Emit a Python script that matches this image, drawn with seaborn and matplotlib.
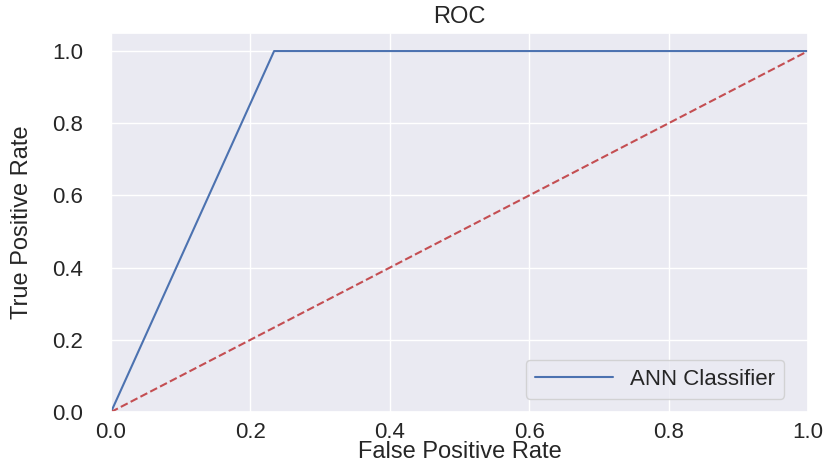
import matplotlib
matplotlib.use("Agg")
import matplotlib.pyplot as plt
import seaborn as sns
import pandas as pd

fpr = [0.0, 0.234, 1.0]
tpr = [0.0, 1.0, 1.0]
diag = [0.0, 1.0]
label = "ANN Classifier"

sns.set_theme(style="darkgrid")
plt.rcParams['font.family'] = ['Liberation Sans', 'DejaVu Sans']

fig = plt.figure(figsize=(8.31, 4.65), dpi=100)
ax = fig.add_axes([0.1336, 0.114, 0.9723 - 0.1336, 0.929 - 0.114])

df = pd.DataFrame({"fpr": fpr, "tpr": tpr})
sns.lineplot(data=df, x="fpr", y="tpr", ax=ax, label=label, color="#4c72b0",
             linewidth=1.5, estimator=None, sort=False)
ax.plot(diag, diag, "--", color="#c44e52", linewidth=1.5)

ax.set_xlim(0, 1)
ax.set_ylim(0, 1.05)
ax.set_xticks([0, 0.2, 0.4, 0.6, 0.8, 1.0])
ax.set_yticks([0, 0.2, 0.4, 0.6, 0.8, 1.0])
ax.tick_params(axis="x", labelsize=16, pad=1)
ax.tick_params(axis="y", labelsize=16, pad=14)
ax.set_title("ROC", fontsize=17, pad=7)
ax.set_xlabel("False Positive Rate", fontsize=17, labelpad=-1)
ax.set_ylabel("True Positive Rate", fontsize=17, labelpad=14)
ax.legend(loc="lower right", fontsize=16, handlelength=3.5,
          borderaxespad=0.6, bbox_to_anchor=(0.985, 0.0))

fig.savefig("out.png", dpi=100)
